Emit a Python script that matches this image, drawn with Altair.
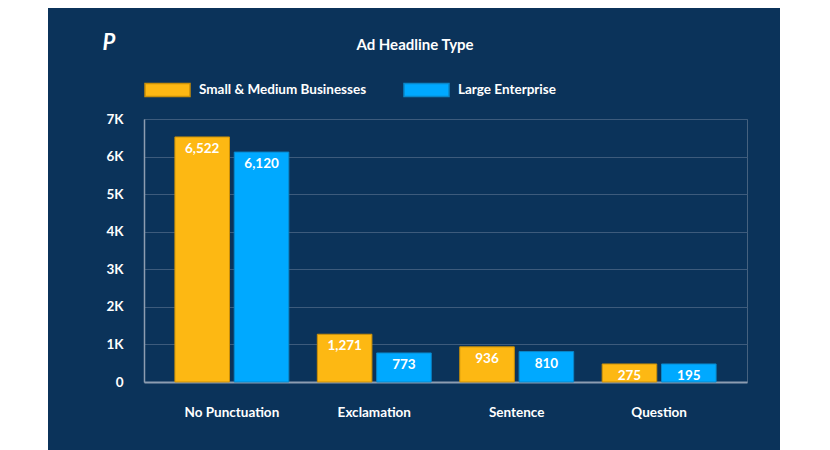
import altair as alt
import pandas as pd

# ---- data ----
categories = ["No Punctuation", "Exclamation", "Sentence", "Question"]
series_names = ["Small & Medium Businesses", "Large Enterprise"]
smb_values = [6522, 1271, 936, 275]
le_values = [6120, 773, 810, 195]
y_tick_values = [0, 1000, 2000, 3000, 4000, 5000, 6000, 7000]
title_text = "Ad Headline Type"

rows = []
for cat, a, b in zip(categories, smb_values, le_values):
    rows.append({"category": cat, "series": series_names[0], "value": a})
    rows.append({"category": cat, "series": series_names[1], "value": b})
df = pd.DataFrame(rows)

FONT = "Lato"
BG = "#0b335a"
ORANGE = "#FDB813"
BLUE = "#00A9FF"

base = alt.Chart(df).transform_calculate(
    bar_value="max(datum.value, 480)"
).encode(
    x=alt.X("category:N", sort=categories,
            scale=alt.Scale(paddingInner=0.2, paddingOuter=0.217),
            axis=alt.Axis(title=None, labelAngle=0, grid=False, ticks=False,
                          labelPadding=23, domainWidth=2)),
    xOffset=alt.XOffset("series:N", sort=series_names,
                        scale=alt.Scale(paddingInner=0.08)),
    y=alt.Y("bar_value:Q", scale=alt.Scale(domain=[0, 7000], nice=False),
            axis=alt.Axis(title=None, values=y_tick_values, grid=True, ticks=False,
                          labelPadding=21, domainWidth=1.5,
                          labelExpr="datum.value == 0 ? '0' : (datum.value / 1000) + 'K'")),
)

bars = base.mark_bar(strokeWidth=1).encode(
    color=alt.Color("series:N",
                    scale=alt.Scale(domain=series_names, range=[ORANGE, BLUE]),
                    legend=alt.Legend(title=None, orient="none", legendX=0, legendY=-53,
                                      direction="horizontal",
                                      symbolType="M-1,-0.29H1V0.29H-1Z",
                                      symbolSize=2025, symbolOpacity=1,
                                      labelColor="white", labelFont=FONT,
                                      labelFontSize=13.5, labelFontWeight="bold",
                                      labelLimit=0,
                                      labelOffset=8, columnPadding=34)),
    stroke=alt.Stroke("series:N",
                      scale=alt.Scale(domain=series_names, range=["#c98f08", "#0a86c8"]),
                      legend=None),
)

labels = base.mark_text(color="white", font=FONT, fontSize=13.5, fontWeight="bold",
                        baseline="middle", dy=12).encode(
    text=alt.Text("value:Q", format=","),
)

one = pd.DataFrame({"t": [title_text]})
title = alt.Chart(one).mark_text(color="white", font=FONT, fontSize=15,
                                 fontWeight="bold", baseline="middle").encode(
    x=alt.value(271), y=alt.value(-74), text="t:N")

logo = alt.Chart(pd.DataFrame({"t": ["P"]})).mark_text(
    color="white", font=FONT, fontSize=22, fontWeight="bold", fontStyle="italic",
    baseline="middle").encode(x=alt.value(-35), y=alt.value(-76), text="t:N")

left_white = alt.Chart(one).mark_rect(color="white").encode(
    x=alt.value(-136), x2=alt.value(-96), y=alt.value(-111), y2=alt.value(331))
right_white = alt.Chart(one).mark_rect(color="white").encode(
    x=alt.value(636), x2=alt.value(680), y=alt.value(-111), y2=alt.value(331))

chart = alt.layer(left_white, right_white, bars, labels, title, logo).properties(
    width=603, height=263,
    padding={"left": 136, "top": 111, "right": 75, "bottom": 68},
    autosize=alt.AutoSizeParams(type="none"),
    background=BG,
).configure_view(
    stroke="#46627f", strokeWidth=1
).configure_axis(
    labelFont=FONT, labelFontWeight="bold", labelColor="white", labelFontSize=13.5,
    domainColor="#8d9db1", gridColor="#3d5b7c", gridWidth=1,
)

chart.save("out.html", embed_options={"renderer": "svg", "actions": False})
